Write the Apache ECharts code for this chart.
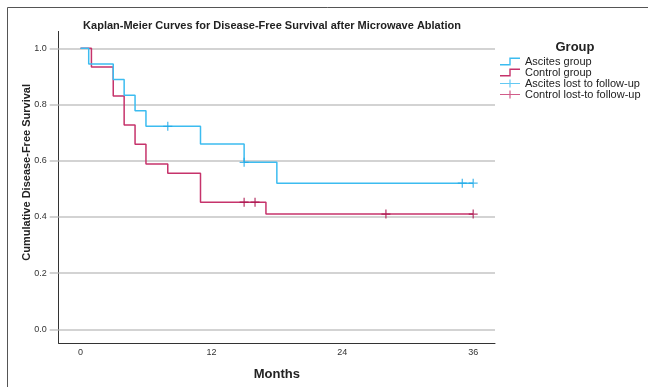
<!DOCTYPE html>
<html>
<head>
<meta charset="utf-8">
<script src="https://cdn.jsdelivr.net/npm/echarts@6/dist/echarts.min.js"></script>
<style>html,body{margin:0;padding:0;background:#fff}#c{width:648px;height:387px}</style>
</head>
<body>
<div id="c"></div>
<script>
// Data
var ascitesTime = [0, 0.75, 3, 4, 5, 6, 11, 15, 18, 36];
var ascitesSurv = [1.0, 0.944, 0.889, 0.833, 0.778, 0.722, 0.659, 0.594, 0.520, 0.520];
var controlTime = [0, 1, 3, 4, 5, 6, 8, 11, 17, 36];
var controlSurv = [1.0, 0.933, 0.830, 0.727, 0.658, 0.588, 0.555, 0.452, 0.410, 0.410];
var ascitesCensorTime = [8, 15, 35, 36];
var ascitesCensorSurv = [0.722, 0.594, 0.520, 0.520];
var controlCensorTime = [15, 16, 28, 36];
var controlCensorSurv = [0.452, 0.452, 0.410, 0.410];
var xTicks = [0, 12, 24, 36];
var yTicks = [0, 0.2, 0.4, 0.6, 0.8, 1.0];

function pairs(xs, ys) { return xs.map(function (x, i) { return [x, ys[i]]; }); }

var blue = '#3cbcf0', red = '#c6336b';
var blueMark = '#1ea7e6', redMark = '#a8104a';
var font = 'Liberation Sans, Arial, sans-serif';
var plusPath = 'path://M0,4.3L4.3,4.3L4.3,0L5.7,0L5.7,4.3L10,4.3L10,5.7L5.7,5.7L5.7,10L4.3,10L4.3,5.7L0,5.7Z';
var stepIcon = 'path://M0,6.6L9.3,6.6L9.3,0L20,0L20,1.4L10.7,1.4L10.7,8L0,8Z';
var plusIcon = 'path://M0,3.4L9.4,3.4L9.4,0L10.6,0L10.6,3.4L20,3.4L20,4.6L10.6,4.6L10.6,8L9.4,8L9.4,4.6L0,4.6Z';

var chart = echarts.init(document.getElementById('c'), null, {renderer: 'canvas'});
chart.setOption({
  animation: false,
  backgroundColor: '#fff',
  title: [{
    text: 'Kaplan-Meier Curves for Disease-Free Survival after Microwave Ablation',
    left: 267, top: 15, textAlign: 'center',
    textStyle: {fontFamily: font, fontSize: 11, fontWeight: 'bold', color: '#222'}
  }, {
    text: 'Group', left: 570, top: 36, textAlign: 'center',
    textStyle: {fontFamily: font, fontSize: 13, fontWeight: 'bold', color: '#222'}
  }],
  graphic: [
    {type: 'line', shape: {x1: 7.5, y1: 7.5, x2: 648, y2: 7.5}, style: {stroke: '#555', lineWidth: 1}},
    {type: 'line', shape: {x1: 7.5, y1: 7.5, x2: 7.5, y2: 387}, style: {stroke: '#555', lineWidth: 1}}
  ],
  legend: {
    orient: 'vertical', left: 495, top: 51, itemWidth: 20, itemHeight: 8, itemGap: 0,
    selectedMode: false,
    textStyle: {fontFamily: font, fontSize: 11, color: '#222'},
    itemStyle: {borderWidth: 0},
    data: [
      {name: 'Ascites group', icon: stepIcon, itemStyle: {color: blue}},
      {name: 'Control group', icon: stepIcon, itemStyle: {color: red}},
      {name: 'Ascites lost to follow-up', icon: plusIcon, itemStyle: {color: blue}},
      {name: 'Control lost-to follow-up', icon: plusIcon, itemStyle: {color: red}}
    ]
  },
  grid: {left: 58.7, right: 153, top: 31.4, bottom: 43.7},
  xAxis: {
    type: 'value', min: -2, max: 38,
    name: 'Months', nameLocation: 'middle', nameGap: 25, nameMoveOverlap: false,
    nameTextStyle: {fontFamily: font, fontSize: 13, fontWeight: 'bold', color: '#222'},
    axisLine: {show: true, onZero: false, lineStyle: {color: '#333', width: 1}},
    axisTick: {show: false, customValues: xTicks},
    axisLabel: {customValues: xTicks, fontFamily: font, fontSize: 9, color: '#333', margin: 5},
    splitLine: {show: false}
  },
  yAxis: {
    type: 'value', min: -0.05, max: 1.06,
    name: 'Cumulative Disease-Free Survival', nameLocation: 'middle', nameGap: 26, nameMoveOverlap: false,
    nameTextStyle: {fontFamily: font, fontSize: 11, fontWeight: 'bold', color: '#222', padding: [0, 0, 0, 30]},
    axisLine: {show: true, onZero: false, lineStyle: {color: '#333', width: 1}},
    axisTick: {show: true, length: 9, customValues: yTicks, lineStyle: {color: '#c4c4c4', width: 1.5}},
    axisLabel: {customValues: yTicks, fontFamily: font, fontSize: 9, color: '#333', margin: 12,
      formatter: function (v) { return v.toFixed(1); }},
    splitLine: {show: true, lineStyle: {color: '#c4c4c4', width: 1.5}}
  },
  series: [
    {name: 'Ascites group', type: 'line', step: 'end', data: pairs(ascitesTime, ascitesSurv),
      showSymbol: false, symbol: 'none', color: blue, lineStyle: {color: blue, width: 1.5}, z: 3},
    {name: 'Control group', type: 'line', step: 'end', data: pairs(controlTime, controlSurv),
      showSymbol: false, symbol: 'none', color: red, lineStyle: {color: red, width: 1.5}, z: 2},
    {name: 'Ascites lost to follow-up', type: 'scatter', data: pairs(ascitesCensorTime, ascitesCensorSurv),
      symbol: plusPath, symbolSize: 9, color: blueMark, itemStyle: {color: blueMark}, z: 5},
    {name: 'Control lost-to follow-up', type: 'scatter', data: pairs(controlCensorTime, controlCensorSurv),
      symbol: plusPath, symbolSize: 9, color: redMark, itemStyle: {color: redMark}, z: 5}
  ]
});
</script>
</body>
</html>
